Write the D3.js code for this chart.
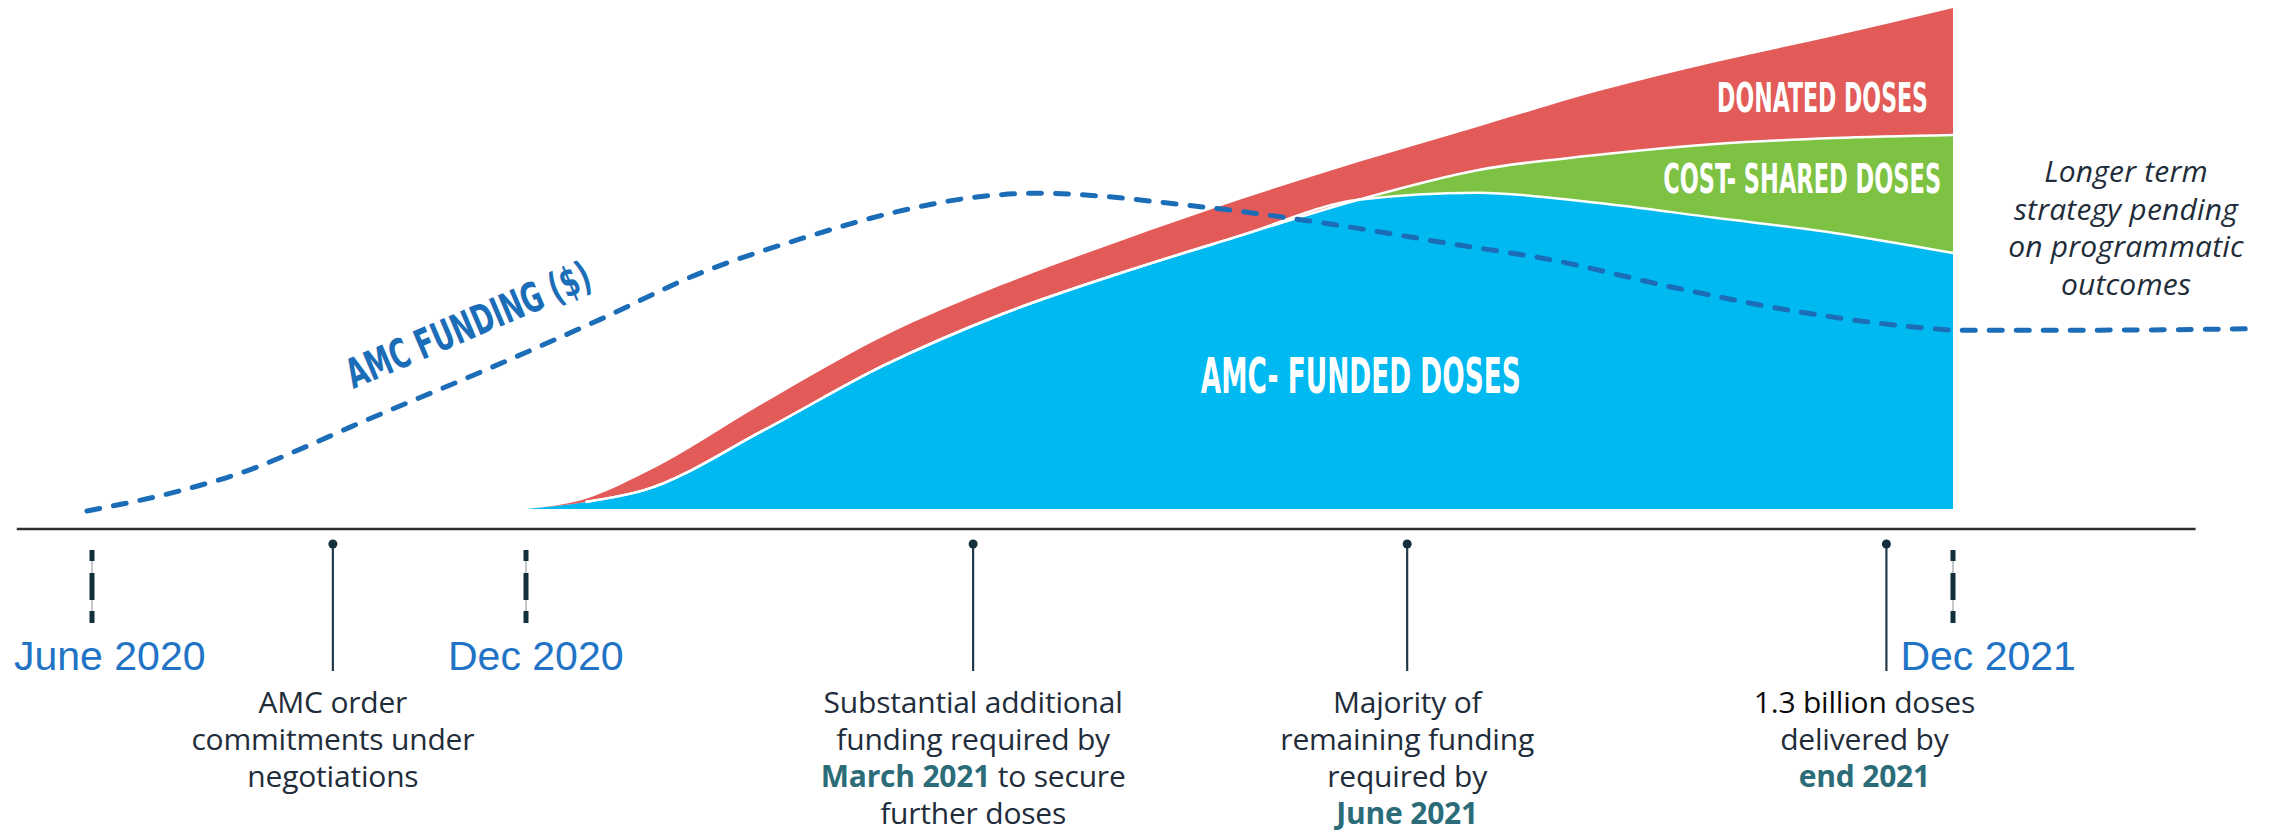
<!DOCTYPE html>
<html>
<head>
<meta charset="utf-8">
<script src="https://cdn.jsdelivr.net/npm/d3@7"></script>
<style>
	body { margin: 0; background: #fff; }
	svg { display: block; }
</style>
</head>
<body>
<div id="chart-area"></div>
<script>
var completeWidth = 2280,
	completeHeight = 838;

//= timeline in months after June 2020 (schematic: 2021 is drawn wider than 2020)
var axisExtent = [-1.04, 20.04];
var dateTicks = [0, 6, 18];
var dateLabels = ["June 2020", "Dec 2020", "Dec 2021"];

//= milestones under the axis (*teal bold*, #black#)
var eventMonths = [3.33, 9.76, 13.41, 17.44];
var eventNotes = [
	["AMC order", "commitments under", "negotiations"],
	["Substantial additional", "funding required by", "*March 2021* to secure", "further doses"],
	["Majority of", "remaining funding", "required by", "*June 2021*"],
	["#1.3 billion# doses", "delivered by", "*end 2021*"]
];

//= doses, stacked (relative units 0-100)
var doseMonths = [6, 6.5, 7, 8, 9, 10, 11, 12, 13, 14, 15, 16, 17, 18];
var amcFunded  = [0, 1.4, 3.8, 15.7, 28.5, 38.8, 47.0, 54.4, 61.6, 63.0, 61.0, 58.0, 55.0, 51.0];
var costShared = [0, 0, 0, 0, 0, 0, 0, 0, 0, 4.5, 9.5, 14.7, 18.9, 23.5];
var donated    = [0, 0.6, 3.4, 5.4, 5.8, 5.8, 6.4, 7.2, 7.5, 8.6, 12.6, 16.3, 20.3, 25.3];

//= AMC funding ($), relative units 0-100
var fundingMonths = [-0.07, 1.26, 2.18, 2.88, 3.57, 5.41, 6.62, 7.46, 8.30, 9.14, 9.70, 10.30, 11.67, 12.93, 13.77, 14.61, 15.66, 16.71, 17.76, 18.03, 19.24, 20.46];
var fundingValues = [0, 6.6, 12.9, 19.4, 26.3, 43.9, 60.0, 74.5, 85.2, 94.0, 98.0, 99.6, 95.4, 89.0, 83.8, 78.8, 70.0, 62.4, 57.4, 56.7, 56.7, 57.1];

var layerKeys = ["amc", "cost", "donated"];
var layerNames = ["AMC- FUNDED DOSES", "COST- SHARED DOSES", "DONATED DOSES"];
var layerColors = ["#00b9f1", "#7dc243", "#e25b58"];

var noteLines = ["Longer term", "strategy pending", "on programmatic", "outcomes"];

var svg = d3.select("#chart-area")
	.append("svg")
		.attr("width", completeWidth)
		.attr("height", completeHeight);

// Scales
var x = d3.scaleLinear().domain(dateTicks).range([92, 526, 1953]);
var y = d3.scaleLinear().domain([0, 100]).range([509, 7]);
var yFund = d3.scaleLinear().domain([0, 100]).range([511, 192]);
var axisY = 529;

// Stacked doses
var rows = doseMonths.map(function(m, i) {
	return { month: m, amc: amcFunded[i], cost: costShared[i], donated: donated[i] };
});
var series = d3.stack().keys(layerKeys)(rows);

var area = d3.area()
	.x(function(d) { return x(d.data.month); })
	.y0(function(d) { return y(d[0]); })
	.y1(function(d) { return y(d[1]); })
	.curve(d3.curveMonotoneX);

svg.selectAll(".layer")
	.data(series)
	.enter().append("path")
		.attr("class", "layer")
		.attr("d", area)
		.attr("fill", function(d, i) { return layerColors[i]; });

//- white seams between layers
var seam = d3.line()
	.x(function(d) { return x(d.data.month); })
	.y(function(d) { return y(d[1]); })
	.curve(d3.curveMonotoneX);
svg.selectAll(".seam")
	.data(series.slice(0, 2))
	.enter().append("path")
		.attr("class", "seam")
		.attr("d", function(d) { return seam(d.filter(function(p) { return p.data.month >= 6.5; })); })
		.attr("fill", "none")
		.attr("stroke", "#fff")
		.attr("stroke-width", 2.5);

// squeeze a text horizontally to a wanted width
function fitWidth(sel, width, prefix) {
	sel.each(function() {
		var natural = this.getComputedTextLength();
		d3.select(this).attr("transform", prefix + " scale(" + (width / natural) + ",1)");
	});
}

// Layer labels
var condensed = "'Liberation Sans Narrow', 'DejaVu Sans Condensed', 'Roboto', sans-serif";
var labelPos = [
	{ m: 13.02, v: 23.1, anchor: "middle", size: 49, len: 320 },
	{ m: 17.9, v: 62.9, anchor: "end", size: 41, len: 278 },
	{ m: 17.79, v: 79.1, anchor: "end", size: 40, len: 211 }
];
svg.selectAll(".layer-label")
	.data(layerNames)
	.enter().append("text")
		.attr("class", "layer-label")
		.attr("text-anchor", function(d, i) { return labelPos[i].anchor; })
		.attr("font-family", condensed)
		.attr("font-weight", "bold")
		.attr("font-size", function(d, i) { return labelPos[i].size + "px"; })
		.attr("fill", "#fff")
		.text(function(d) { return d; })
		.each(function(d, i) {
			var p = labelPos[i];
			fitWidth(d3.select(this), p.len, "translate(" + x(p.m) + "," + y(p.v) + ")");
		});

// Funding line
var fundLine = d3.line()
	.x(function(d) { return x(d[0]); })
	.y(function(d) { return yFund(d[1]); })
	.curve(d3.curveMonotoneX);
svg.append("path")
	.datum(d3.zip(fundingMonths, fundingValues))
	.attr("d", fundLine)
	.attr("fill", "none")
	.attr("stroke", "#1b6db7")
	.attr("stroke-width", 5)
	.attr("stroke-linecap", "round")
	.attr("stroke-dasharray", "13 14");

var fx = x(fundingMonths[4]) + 3,
	fy = yFund(fundingValues[4]) - 38;
var fundLabel = svg.append("text")
	.attr("font-family", condensed)
	.attr("font-weight", "bold")
	.attr("font-size", "41px")
	.attr("fill", "#1b6db7")
	.text("AMC FUNDING ($)");
fitWidth(fundLabel, 262, "translate(" + fx + "," + fy + ") rotate(-23)");

// Axis line
svg.append("line")
	.attr("x1", x(axisExtent[0]))
	.attr("x2", x(axisExtent[1]))
	.attr("y1", axisY)
	.attr("y2", axisY)
	.attr("stroke", "#2e2e2e")
	.attr("stroke-width", 2.5);

// Date ticks (dashed markers)
var ticks = svg.selectAll(".date-tick")
	.data(dateTicks)
	.enter().append("g")
		.attr("class", "date-tick")
		.attr("transform", function(d) { return "translate(" + x(d) + ",0)"; });
ticks.append("line")
	.attr("y1", 550).attr("y2", 623)
	.attr("stroke", "#c4c8ca")
	.attr("stroke-width", 2);
ticks.append("line")
	.attr("y1", 550).attr("y2", 623)
	.attr("stroke", "#12303c")
	.attr("stroke-width", 5)
	.attr("stroke-dasharray", "11 12 27 11 12 40");

svg.selectAll(".date-label")
	.data(dateTicks)
	.enter().append("text")
		.attr("class", "date-label")
		.attr("x", function(d) {
			var pinsLeft = eventMonths.filter(function(m) { return m < d; });
			var minX = pinsLeft.length ? x(d3.max(pinsLeft)) + 14 : 0;
			return Math.max(x(d) - 78, minX);
		})
		.attr("y", 670)
		.attr("font-family", "'Liberation Sans', Arial, sans-serif")
		.attr("font-size", "41px")
		.attr("fill", "#2174c5")
		.text(function(d, i) { return dateLabels[i]; });

// Milestone pins
var pins = svg.selectAll(".pin")
	.data(eventMonths)
	.enter().append("g")
		.attr("class", "pin")
		.attr("transform", function(d) { return "translate(" + x(d) + ",0)"; });
pins.append("line")
	.attr("y1", 544).attr("y2", 671)
	.attr("stroke", "#22394a")
	.attr("stroke-width", 2.2);
pins.append("circle")
	.attr("cy", 544)
	.attr("r", 4.5)
	.attr("fill", "#14303d");

// Milestone notes
var notes = svg.selectAll(".note")
	.data(eventNotes)
	.enter().append("text")
		.attr("class", "note")
		.attr("font-family", "'Open Sans', Lato, sans-serif")
		.attr("font-size", "30px")
		.attr("letter-spacing", "-0.2px")
		.attr("text-anchor", "middle")
		.attr("fill", "#1f2d3a");

notes.each(function(lines, i) {
	var t = d3.select(this);
	var cx = x(eventMonths[i]) - (i === eventNotes.length - 1 ? 22 : 0);
	lines.forEach(function(line, j) {
		var row = t.append("tspan").attr("x", cx).attr("y", 713 + j * 37);
		line.split(/(\*[^*]+\*|#[^#]+#)/).filter(function(s) { return s.length; }).forEach(function(part) {
			var s = row.append("tspan");
			if (part[0] === "*") {
				s.text(part.slice(1, -1)).attr("font-weight", "bold").attr("fill", "#2b6c78");
			} else if (part[0] === "#") {
				s.text(part.slice(1, -1)).attr("fill", "#0b0b0b");
			} else {
				s.text(part);
			}
		});
	});
});

// Right-hand note
svg.append("text")
	.attr("font-family", "'Open Sans', Lato, sans-serif")
	.attr("font-style", "italic")
	.attr("font-size", "30px")
	.attr("letter-spacing", "0.2px")
	.attr("text-anchor", "middle")
	.attr("fill", "#1f2d3a")
	.selectAll("tspan")
	.data(noteLines)
	.enter().append("tspan")
		.attr("x", 2126)
		.attr("y", function(d, i) { return 182 + i * 37.5; })
		.text(function(d) { return d; });
</script>
</body>
</html>
